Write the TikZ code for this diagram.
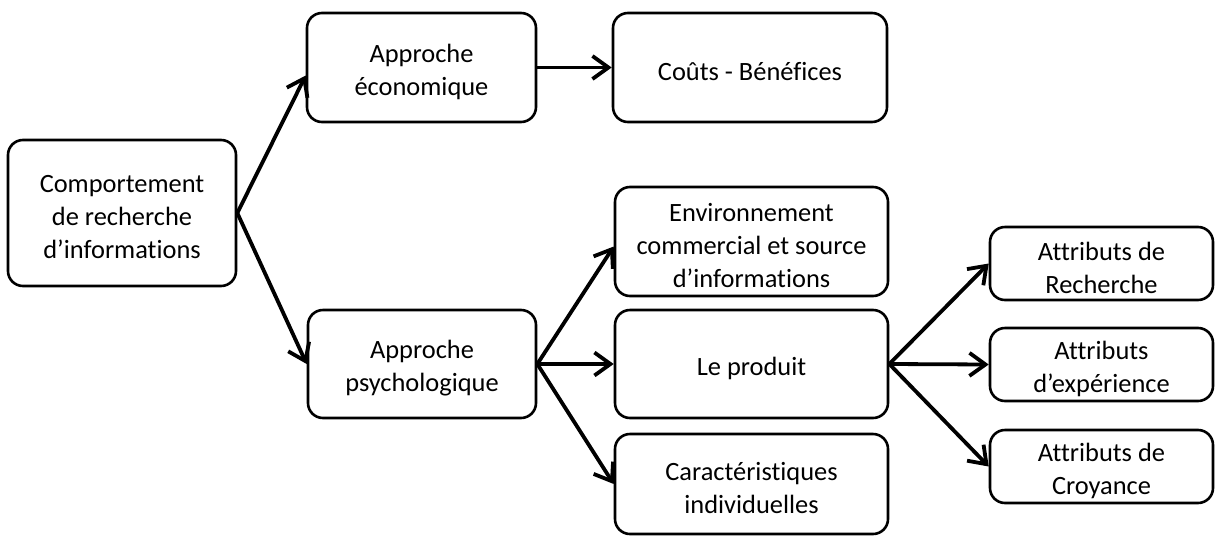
\documentclass[tikz,border=0pt]{standalone}
\usepackage{fontspec}
\setmainfont{Carlito}[Ligatures=NoCommon]
\usetikzlibrary{arrows.meta}
\begin{document}
\begin{tikzpicture}[x=1pt,y=-1pt,
  box/.style={draw=black, line width=2.6pt, rounded corners=15pt, inner sep=0pt},
  txt/.style={align=center, inner sep=0pt, yshift=-4pt,
    font=\fontsize{26.4}{33}\selectfont},
  link/.style={line width=3.8pt, -{Straight Barb[length=16pt,width=23pt]}}]
\useasboundingbox (0,0) rectangle (1215,536);

% root and first level
\node[box, minimum width=228pt, minimum height=146pt] (comp) at (122,213) {};
\node[txt] (comp-t) at (comp.center) {Comportement\\de recherche\\d’informations};
\node[box, minimum width=229pt, minimum height=109pt] (eco) at (421.5,67.5) {};
\node[txt] (eco-t) at (eco.center) {Approche\\économique};
\node[box, minimum width=228pt, minimum height=108pt] (psy) at (422,364) {};
\node[txt] (psy-t) at (psy.center) {Approche\\psychologique};

% second level
\node[box, minimum width=274pt, minimum height=109pt] (couts) at (750,67.5) {};
\node[txt] (couts-t) at (couts.center) {Coûts - Bénéfices};
\node[box, minimum width=273pt, minimum height=109pt] (env) at (751.5,241.5) {};
\node[txt] (env-t) at (env.center) {Environnement\\commercial et source\\d’informations};
\node[box, minimum width=273pt, minimum height=108pt] (prod) at (751.5,364) {};
\node[txt] (prod-t) at (prod.center) {Le produit};
\node[box, minimum width=273pt, minimum height=100pt] (carac) at (751.5,484) {};
\node[txt] (carac-t) at (carac.center) {Caractéristiques\\individuelles};

% product attributes
\node[box, minimum width=223pt, minimum height=73pt] (rech) at (1101.5,263.5) {};
\node[txt] (rech-t) at (rech.center) {Attributs de\\Recherche};
\node[box, minimum width=223pt, minimum height=73pt] (exp) at (1101.5,364.5) {};
\node[txt] (exp-t) at (exp.center) {Attributs\\d’expérience};
\node[box, minimum width=223pt, minimum height=73pt] (croy) at (1101.5,466.5) {};
\node[txt] (croy-t) at (croy.center) {Attributs de\\Croyance};

% connectors
\draw[link] (comp.east) -- ([yshift=-8pt]eco.west);
\draw[link] (comp.east) -- (psy.west);
\draw[link] (eco.east) -- (couts.west);
\draw[link] (psy.east) -- ([yshift=-5pt]env.west);
\draw[link] (psy.east) -- (prod.west);
\draw[link] (psy.east) -- (carac.west);
\draw[link] (prod.east) -- (rech.west);
\draw[link] (prod.east) -- (exp.west);
\draw[link] (prod.east) -- (croy.west);
\end{tikzpicture}
\end{document}
